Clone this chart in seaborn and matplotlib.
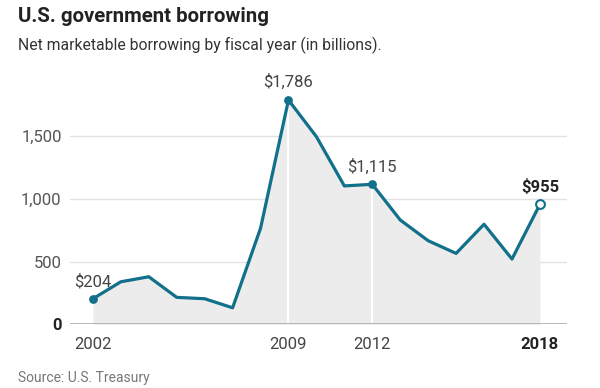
import matplotlib
matplotlib.use("Agg")
import matplotlib.pyplot as plt
import seaborn as sns
import pandas as pd

years = list(range(2002, 2019))
borrowing = [204, 339, 379, 215, 204, 132, 765, 1786, 1494, 1102, 1115, 831, 666, 565, 797, 520, 955]
y_ticks = [0, 500, 1000, 1500]
y_tick_labels = ["0", "500", "1,000", "1,500"]
x_ticks = [2002, 2009, 2012, 2018]
labels = {2002: "$204", 2009: "$1,786", 2012: "$1,115", 2018: "$955"}

sns.set_theme(style="white")
plt.rcParams['font.family'] = ['Roboto', 'DejaVu Sans']

df = pd.DataFrame({"year": years, "value": borrowing})
teal = "#11708a"

fig = plt.figure(figsize=(6, 3.88), dpi=100)
ax = fig.add_axes([0.1167, 0.164, 0.8283, 0.599])

ax.set_xlim(2001.18, 2018.97)
ax.set_ylim(0, 1850)

for t in y_ticks[1:]:
    ax.axhline(t, color="#e2e2e2", lw=1, zorder=0)
ax.fill_between(df["year"], 0, df["value"], color="#ececec", lw=0, zorder=1)
for yr in [2009, 2012]:
    v = df.loc[df.year == yr, "value"].iloc[0]
    ax.plot([yr, yr], [0, v], color="white", lw=1.5, zorder=2)
ax.axhline(0, color="#aaaaaa", lw=1.2, zorder=3)

sns.lineplot(data=df, x="year", y="value", ax=ax, color=teal, lw=2.3, zorder=4)

dots = df[df.year.isin([2002, 2009, 2012])]
ax.scatter(dots["year"], dots["value"], s=40, color=teal, zorder=5, linewidths=0)
last = df[df.year == 2018]
ax.scatter(last["year"], last["value"], s=40, facecolor="white", edgecolor=teal, linewidths=1.5, zorder=6)

for yr, txt in labels.items():
    v = df.loc[df.year == yr, "value"].iloc[0]
    bold = yr == 2018
    ax.annotate(txt, (yr, v), xytext=(0, 7), textcoords="offset points",
                ha="center", va="bottom", fontsize=12,
                color="#222222" if bold else "#444444",
                fontweight="bold" if bold else "normal", zorder=7)

ax.set_yticks(y_ticks)
ax.set_yticklabels(y_tick_labels, fontsize=12, color="#555555")
ax.get_yticklabels()[0].set_fontweight("bold")
ax.get_yticklabels()[0].set_color("#222222")
ax.set_xticks(x_ticks)
ax.set_xticklabels([str(x) for x in x_ticks], fontsize=12, color="#444444")
ax.get_xticklabels()[-1].set_fontweight("bold")
ax.get_xticklabels()[-1].set_color("#222222")
ax.tick_params(axis="both", length=0)
ax.tick_params(axis="y", pad=6)
ax.tick_params(axis="x", pad=9)
ax.set_xlabel("")
ax.set_ylabel("")
sns.despine(ax=ax, left=True, bottom=True)

fig.text(0.03, 0.957, "U.S. government borrowing", fontsize=14.7, fontweight="bold",
         color="#222222", va="center", ha="left")
fig.text(0.03, 0.884, "Net marketable borrowing by fiscal year (in billions).",
         fontsize=11.3, color="#333333", va="center", ha="left")
fig.text(0.03, 0.027, "Source: U.S. Treasury", fontsize=10, color="#777777",
         va="center", ha="left")

fig.savefig("out.png", dpi=100, facecolor="white")
